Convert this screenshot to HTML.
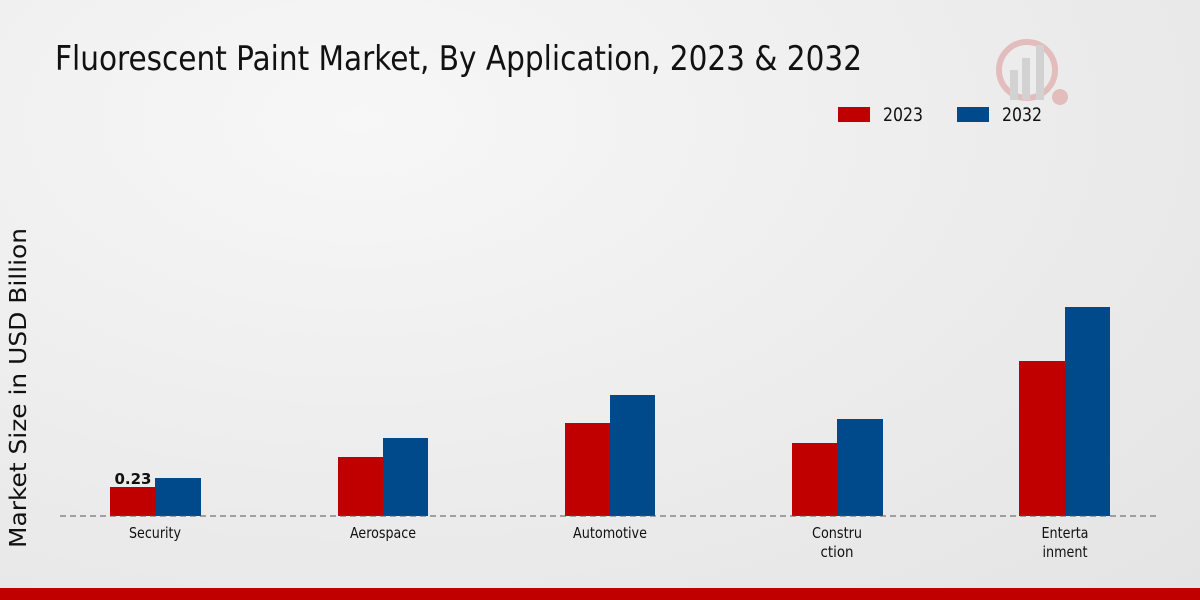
<!DOCTYPE html>
<html><head><meta charset="utf-8"><style>
html,body{margin:0;padding:0}
body{width:1200px;height:600px;overflow:hidden;background:radial-gradient(ellipse at 30% 20%,#f7f7f7 0%,#ebebeb 60%,#e4e4e4 100%);font-family:"Liberation Sans",sans-serif;position:relative}
</style></head><body>
<svg width="1200" height="600" style="position:absolute;left:0;top:0">
<text x="55" y="70" font-size="34" fill="#111" textLength="807" lengthAdjust="spacingAndGlyphs" font-family="DejaVu Sans Condensed, DejaVu Sans, sans-serif">Fluorescent Paint Market, By Application, 2023 &amp; 2032</text>
<g opacity="0.25">
<circle cx="1027" cy="70" r="28" fill="none" stroke="#c33" stroke-width="6"/>
<rect x="1010" y="70" width="8" height="30" fill="#888"/><rect x="1022" y="58" width="8" height="42" fill="#888"/><rect x="1036" y="45" width="8" height="55" fill="#888"/>
<circle cx="1060" cy="97" r="8" fill="#c33"/>
</g>
<g font-family="DejaVu Sans Condensed, DejaVu Sans, sans-serif">
<rect x="838" y="107" width="32" height="15" fill="#c00000"/>
<text x="883" y="121" font-size="19" fill="#111" textLength="40" lengthAdjust="spacingAndGlyphs">2023</text>
<rect x="957" y="107" width="32" height="15" fill="#004a8c"/>
<text x="1002" y="121" font-size="19" fill="#111" textLength="40" lengthAdjust="spacingAndGlyphs">2032</text>
</g>
<text transform="translate(26,388) rotate(-90)" text-anchor="middle" font-size="23" fill="#111" textLength="320" lengthAdjust="spacingAndGlyphs" font-family="DejaVu Sans, sans-serif">Market Size in USD Billion</text>
<g>
<rect x="110" y="487" width="45" height="29" fill="#c00000"/><rect x="155" y="478" width="46" height="38" fill="#004a8c"/>
<rect x="338" y="457" width="45" height="59" fill="#c00000"/><rect x="383" y="438" width="45" height="78" fill="#004a8c"/>
<rect x="565" y="423" width="45" height="93" fill="#c00000"/><rect x="610" y="395" width="45" height="121" fill="#004a8c"/>
<rect x="792" y="443" width="45" height="73" fill="#c00000"/><rect x="837" y="419" width="46" height="97" fill="#004a8c"/>
<rect x="1019" y="361" width="46" height="155" fill="#c00000"/><rect x="1065" y="307" width="45" height="209" fill="#004a8c"/>
</g>
<line x1="60" y1="516" x2="1160" y2="516" stroke="#555" stroke-width="1" stroke-dasharray="6,4"/>
<text x="133" y="484" text-anchor="middle" font-size="15" font-weight="bold" fill="#111" font-family="DejaVu Sans, sans-serif">0.23</text>
<g font-size="15" fill="#111" text-anchor="middle" font-family="DejaVu Sans Condensed, DejaVu Sans, sans-serif">
<text x="155" y="538" textLength="52" lengthAdjust="spacingAndGlyphs">Security</text>
<text x="383" y="538" textLength="66" lengthAdjust="spacingAndGlyphs">Aerospace</text>
<text x="610" y="538" textLength="74" lengthAdjust="spacingAndGlyphs">Automotive</text>
<text x="837" y="538" textLength="50" lengthAdjust="spacingAndGlyphs">Constru</text><text x="837" y="557" textLength="33" lengthAdjust="spacingAndGlyphs">ction</text>
<text x="1065" y="538" textLength="47" lengthAdjust="spacingAndGlyphs">Enterta</text><text x="1065" y="557" textLength="45" lengthAdjust="spacingAndGlyphs">inment</text>
</g>
<rect x="0" y="588" width="1200" height="12" fill="#c00000"/>
</svg>
</body></html>
